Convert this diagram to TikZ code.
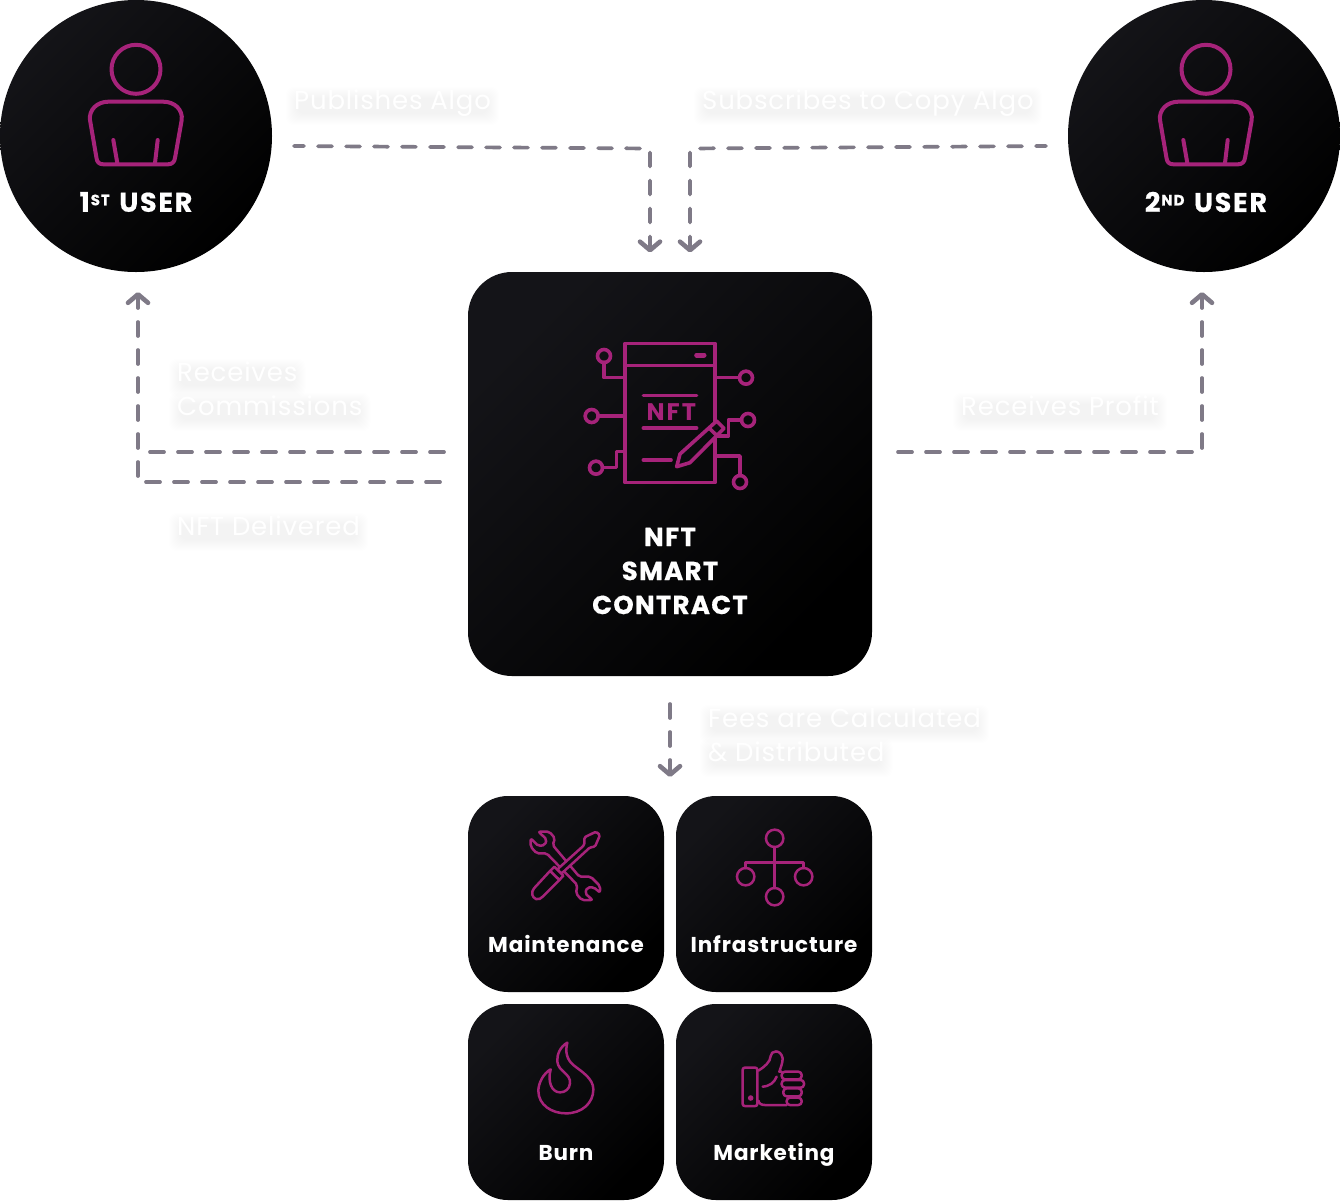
\documentclass[tikz,border=0pt]{standalone}
\usepackage{fontspec}
\setmainfont{Poppins}
\usetikzlibrary{arrows.meta,calc}
\pgfdeclarelayer{background}
\pgfsetlayers{background,main}
\definecolor{grad1}{HTML}{141418}
\definecolor{grad2}{HTML}{000000}
\definecolor{mag}{HTML}{A6237A}
\definecolor{flow}{HTML}{7F7A87}
\definecolor{panelmid}{HTML}{0B0B0E}
\tikzset{
  x=1pt,y=-1pt,
  circlepanel/.style={circle,inner sep=0,minimum size=272pt,top color=grad1,bottom color=grad2,shading angle=45},
  bigpanel/.style={rectangle,rounded corners=44pt,inner sep=0,minimum size=404pt,top color=grad1,bottom color=grad2,shading angle=45},
  smallpanel/.style={rectangle,rounded corners=40pt,inner sep=0,minimum size=196pt,top color=grad1,bottom color=grad2,shading angle=45},
  flowline/.style={draw=flow,line width=3.7pt,line cap=round,line join=round,dash pattern=on 14pt off 14pt},
  flowarrow/.style={flowline,-{Straight Barb[length=8.5pt,width=20pt,line width=4.6pt,round]}},
  usertxt/.style={text=white,font=\fontsize{27}{34}\selectfont\bfseries\addfontfeature{LetterSpace=6.5,FakeBold=0.6},inner sep=0},
  headtxt/.style={text=white,font=\fontsize{26}{34}\selectfont\bfseries\addfontfeature{LetterSpace=5,FakeBold=0.6},inner sep=0,align=center},
  smalltxt/.style={text=white,font=\fontsize{21.5}{26}\selectfont\bfseries\addfontfeature{LetterSpace=4},inner sep=0,anchor=base},
  faint/.style={text=white,font=\fontsize{26}{34}\selectfont\addfontfeature{LetterSpace=3.1},inner sep=0,anchor=base west,text height=17pt,text depth=5pt},
  icon/.style={draw=mag,line cap=round,line join=round},
  zoomed/.style={x=0.33333pt,y=-0.33333pt},
}
\newcommand\halo[1]{%
  \begin{pgfonlayer}{background}
  \foreach \i in {-3,-2,...,8}{
    \fill[black,opacity=0.003,rounded corners=8pt]
      ($(#1.north west)+(-\i,3-\i)$) rectangle ($(#1.south east)+(\i,3+\i)$);
  }
  \end{pgfonlayer}}
\begin{document}
\begin{tikzpicture}
\begin{pgfonlayer}{background}
\fill[white] (0,0) rectangle (1340,1200);
\end{pgfonlayer}
\useasboundingbox (0,0) rectangle (1340,1200);

% panels
\node[circlepanel] (user1) at (136,136) {};
\node[circlepanel] (user2) at (1204,136) {};
\node[bigpanel] (nft) at (670,474) {};
\node[smallpanel] (maint) at (566,894) {};
\node[smallpanel] (infra) at (774,894) {};
\node[smallpanel] (burn) at (566,1102) {};
\node[smallpanel] (mkt) at (774,1102) {};

% user icons
\foreach \dx in {0,1070}{
\begin{scope}[xshift=\dx pt,icon,line width=4pt]
  \draw (136,69.3) circle[radius=24.5pt];
  \draw (108.3,101.7) -- (163.3,101.7) .. controls (175,101.7) and (183,110) .. (181.7,120)
    -- (175,158) .. controls (174.5,162) and (172,164.3) .. (168,164.3) -- (103.3,164.3)
    .. controls (99,164.3) and (97,162) .. (96.5,158) -- (90,120)
    .. controls (88.7,110) and (97,101.7) .. (108.3,101.7) -- cycle;
  \draw (113.3,140) -- (117.3,163);
  \draw (157.7,140) -- (155,163);
\end{scope}}

% NFT icon (coordinates as in a 3x crop at 570,330)
\begin{scope}[shift={(570pt,-330pt)},zoomed,icon,line width=3.6pt]
  \draw (165,40) rectangle (435,458);
  \draw (165,107) -- (435,107);
  \draw[line width=5pt] (380,75) -- (402,75);
  \draw (102,78) circle[radius=6.5pt];
  \draw (102,97) -- (102,143) -- (165,143);
  \draw (65,258) circle[radius=6.5pt];
  \draw (84,258) -- (165,258);
  \draw (78,413) circle[radius=6.5pt];
  \draw (97,413) -- (140,413) -- (140,365) -- (165,365);
  \draw (528,143) circle[radius=6.5pt];
  \draw (437,143) -- (509,143);
  \draw (534,270) circle[radius=6.5pt];
  \draw (515,270) -- (475,270) -- (475,318) -- (440,318);
  \draw (510,456) circle[radius=6.5pt];
  \draw (510,437) -- (510,378) -- (437,378);
  \draw (220,197) -- (380,197);
  \draw (220,294) -- (380,294);
  \draw (220,390) -- (303,390);
  \node[text=mag,font=\fontsize{24}{24}\selectfont\bfseries\addfontfeature{LetterSpace=9},inner sep=0] (nfticon) at (304,246) {NFT};
  \draw[fill=panelmid] (440,273) -- (462,295) -- (360,398) -- (320,410) -- (330,372) -- cycle;
  \draw (418,295) -- (442,318);
\end{scope}

% wrench and screwdriver, network (3x crop at 500,810)
\begin{scope}[shift={(500pt,-810pt)},zoomed,icon,line width=2.5pt]
  \draw[rounded corners=2pt] (115,65) -- (148,65) -- (165,85) -- (158,105) -- (238,200) -- (272,200)
    -- (300,228) -- (300,248) -- (282,232) -- (262,232) -- (255,250) -- (278,270) -- (245,270)
    -- (228,250) -- (232,225) -- (140,130) -- (110,130) -- (92,110) -- (92,85) -- (115,108)
    -- (135,105) -- (140,88) -- cycle;
  \draw[fill=panelmid,rounded corners=1.5pt] (172,178) -- (253,105) -- (253,82) -- (288,65) -- (300,75)
    -- (285,110) -- (270,112) -- (184,191) -- cycle;
  \draw[fill=panelmid] (150,183) -- (163,170) -- (190,197) -- (178,210) -- cycle;
  \draw[fill=panelmid] (150,183) -- (102,235) .. controls (92,247) and (96,262) .. (108,267)
    .. controls (116,270) and (122,266) .. (128,260) -- (178,210) -- cycle;
  \draw (824,85) circle[radius=8.7pt];
  \draw (824,260) circle[radius=8.7pt];
  \draw (737,200) circle[radius=8.7pt];
  \draw (911,200) circle[radius=8.7pt];
  \draw (824,111) -- (824,234);
  \draw (737,174) -- (737,157) -- (911,157) -- (911,174);
\end{scope}

% flame, thumb (3x crop at 510,1030)
\begin{scope}[shift={(510pt,-1030pt)},zoomed,icon,line width=2.5pt]
  \draw (172,38) .. controls (150,50) and (140,75) .. (142,95) .. controls (145,125) and (183,130) .. (180,160)
    .. controls (178,178) and (165,187) .. (150,187) .. controls (125,187) and (112,155) .. (122,118)
    .. controls (100,130) and (85,160) .. (85,182) .. controls (85,225) and (125,250) .. (168,250)
    .. controls (215,250) and (250,220) .. (250,178) .. controls (250,145) and (215,125) .. (190,105)
    .. controls (170,88) and (165,65) .. (172,38) -- cycle;
  \draw[rounded corners=2pt] (698,113) rectangle (742,228);
  \fill[mag] (722,204) circle[radius=2.8pt];
  \draw (745,122) .. controls (762,112) and (782,95) .. (782,78) .. controls (782,62) and (812,55) .. (818,85)
    .. controls (818,100) and (812,112) .. (808,125) -- (815,125);
  \draw (745,212) .. controls (748,222) and (755,225) .. (765,225) -- (830,225);
  \draw[rounded corners=3.3pt] (815,125) rectangle (875,148);
  \draw[rounded corners=3.3pt] (815,150) rectangle (882,173);
  \draw[rounded corners=3.3pt] (820,175) rectangle (875,199);
  \draw[rounded corners=3.3pt] (830,203) rectangle (875,225);
  \draw (758,170) .. controls (780,168) and (792,158) .. (800,140);
\end{scope}

% panel labels
\node[usertxt] (user1txt) at (136,202) {1\hspace{1pt}\raisebox{6.5pt}{\fontsize{15}{15}\selectfont ST}\hspace{2pt} USER};
\node[usertxt] (user2txt) at (1206,202) {2\hspace{1pt}\raisebox{6.5pt}{\fontsize{15}{15}\selectfont ND}\hspace{2pt} USER};
\node[headtxt] (nfttxt) at (670,571) {NFT\\SMART\\CONTRACT};
\node[smalltxt] (mainttxt) at (566,952) {Maintenance};
\node[smalltxt] (infratxt) at (774,952) {Infrastructure};
\node[smalltxt] (burntxt) at (566,1160) {Burn};
\node[smalltxt] (mkttxt) at (774,1160) {Marketing};

% faint labels
\node[faint] (l1) at (294,109) {Publishes Algo}; \halo{l1}
\node[faint] (l2) at (702,109) {Subscribes to Copy Algo}; \halo{l2}
\node[faint] (l3) at (177,381) {Receives}; \halo{l3}
\node[faint] (l4) at (177,415) {Commissions}; \halo{l4}
\node[faint] (l5) at (177,535) {NFT Delivered}; \halo{l5}
\node[faint] (l6) at (961,415) {Receives Profit}; \halo{l6}
\node[faint] (l7) at (708,727) {Fees are Calculated}; \halo{l7}
\node[faint] (l8) at (708,761) {\& Distributed}; \halo{l8}

% connector ends
\coordinate (a0) at (294,146); \coordinate (a1) at (650,148.5); \coordinate (a2) at (650,252.5);
\coordinate (b0) at (1046,146); \coordinate (b1) at (690,148.5); \coordinate (b2) at (690,252.5);
\coordinate (c0) at (440,482); \coordinate (c1) at (138,482); \coordinate (c2) at (138,292);
\coordinate (d0) at (444,452); \coordinate (d1) at (150,452);
\coordinate (e0) at (898,452); \coordinate (e1) at (1202,452); \coordinate (e2) at (1202,292);
\coordinate (f0) at (670,704); \coordinate (f1) at (670,777);

\draw[flowarrow,dash pattern=on 14pt off 14pt,dash phase=4pt] (a0) -- (a1) -- (a2);
\draw[flowarrow,dash pattern=on 14pt off 14pt,dash phase=4pt] (b0) -- (b1) -- (b2);
\draw[flowarrow] (c0) -- (c1) -- (c2);
\draw[flowline] (d0) -- (d1);
\draw[flowarrow] (e0) -- (e1) -- (e2);
\draw[flowarrow] (f0) -- (f1);
\end{tikzpicture}
\end{document}
